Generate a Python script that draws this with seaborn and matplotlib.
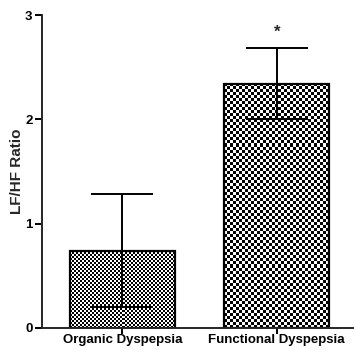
import numpy as np
import pandas as pd
import matplotlib
matplotlib.use("Agg")
import matplotlib.pyplot as plt
import seaborn as sns

# ---- data ----
groups = ["Organic Dyspepsia", "Functional Dyspepsia"]
means = [0.74, 2.34]
errors = [0.54, 0.34]
y_ticks = [0, 1, 2, 3]
y_label = "LF/HF Ratio"
sig_marks = ["", "*"]
checker_px = [2, 3]  # checker cell size (pixels) per bar

sns.set_style("ticks")
plt.rcParams["font.family"] = ["Liberation Sans", "DejaVu Sans"]
plt.rcParams["font.weight"] = "bold"

df = pd.DataFrame({"group": groups, "value": means})

fig = plt.figure(figsize=(3.54, 3.50), dpi=100)
ax = fig.add_axes([0.119, 0.063, 0.881, 0.894])

sns.barplot(data=df, x="group", y="value", ax=ax, width=0.68,
            color="white", edgecolor="black", linewidth=1.6, errorbar=None)

ax.set_ylim(0, 3)
ax.set_xlim(-0.52, 1.50)
fig.canvas.draw()

# checkerboard fill clipped to each bar
for patch, cell in zip(ax.patches, checker_px):
    x0, y0 = patch.get_x(), patch.get_y()
    x1, y1 = x0 + patch.get_width(), y0 + patch.get_height()
    (px0, py0), (px1, py1) = ax.transData.transform([(x0, y0), (x1, y1)])
    nx = max(1, int(round(abs(px1 - px0) / cell)))
    ny = max(1, int(round(abs(py1 - py0) / cell)))
    board = (np.add.outer(np.arange(ny), np.arange(nx)) % 2).astype(float)
    im = ax.imshow(board, cmap="gray", vmin=0, vmax=1, extent=(x0, x1, y0, y1),
                   interpolation="nearest", aspect="auto", zorder=patch.get_zorder() - 0.1)
    im.set_clip_path(patch)
    patch.set_facecolor("none")
    patch.set_zorder(patch.get_zorder() + 0.2)

ax.set_xlim(-0.52, 1.50)
ax.set_ylim(0, 3)

centers = [p.get_x() + p.get_width() / 2 for p in ax.patches]
ax.errorbar(centers, means, yerr=errors, fmt="none", ecolor="black",
            elinewidth=1.4, capsize=22, capthick=1.4, zorder=5)

for c, m, e, s in zip(centers, means, errors, sig_marks):
    if s:
        ax.annotate(s, (c, m + e), xytext=(0, 6), textcoords="offset points",
                    ha="center", va="bottom", fontsize=12, fontweight="bold")

ax.set_yticks(y_ticks)
ax.set_yticklabels([str(t) for t in y_ticks], fontsize=9.5, fontweight="bold")
ax.set_xticks(range(len(groups)))
ax.set_xticklabels(groups, fontsize=9.5, fontweight="bold")
ax.set_xlabel("")
ax.set_ylabel(y_label, fontsize=11, fontweight="bold", labelpad=1)

sns.despine(ax=ax)
for side in ["left", "bottom"]:
    ax.spines[side].set_linewidth(1.4)
ax.tick_params(axis="y", width=1.4, length=5, pad=2, colors="black")
ax.tick_params(axis="x", width=1.4, length=4, pad=0.5, colors="black")

fig.savefig("out.png", dpi=100)
